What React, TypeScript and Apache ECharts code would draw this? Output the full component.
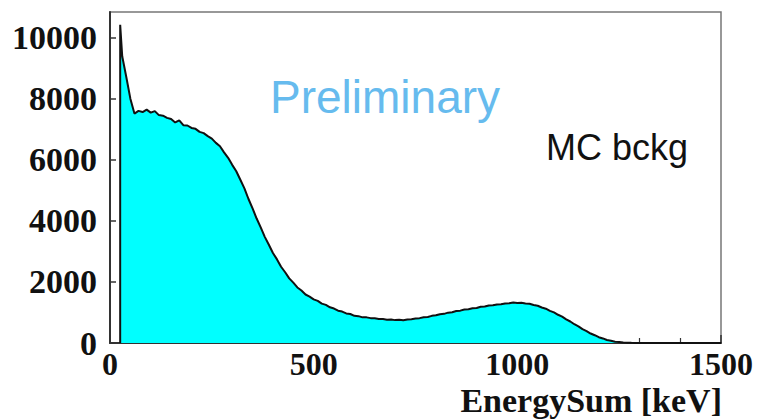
import React, { useEffect, useRef } from "react";
import * as echarts from "echarts";

// Energy-sum spectrum of the MC background, 10 keV bins starting at 30 keV
const BIN_START = 30;
const BIN_WIDTH = 10;
const edgeEnergy = 25;
const edgePeak = 10430;
const counts = [
  9400, 8720, 8010, 7520, 7610, 7570, 7650, 7550, 7600, 7470,
  7450, 7380, 7340, 7230, 7300, 7140, 7130, 7050, 7020, 6920,
  6880, 6780, 6700, 6560, 6450, 6250, 6070, 5840, 5630, 5350,
  5070, 4720, 4410, 4080, 3790, 3480, 3220, 2950, 2740, 2500,
  2320, 2120, 1980, 1820, 1720, 1590, 1520, 1430, 1380, 1290,
  1250, 1170, 1130, 1060, 1030, 970, 950, 890, 880, 840,
  840, 815, 810, 790, 785, 765, 770, 750, 760, 745,
  770, 780, 800, 815, 845, 855, 890, 910, 945, 955,
  995, 1010, 1050, 1060, 1100, 1105, 1140, 1150, 1190, 1195,
  1230, 1235, 1265, 1270, 1295, 1300, 1325, 1310, 1320, 1295,
  1285, 1245, 1220, 1165, 1125, 1055, 1005, 925, 865, 775,
  705, 615, 545, 455, 390, 310, 255, 190, 150, 100,
  72, 44, 30, 15, 10, 5, 2, 1, 0,
];
const axisEnd = 1500;

const xTicks = { min: 0, max: 1500, interval: 500 };
const yTicks = { min: 0, max: 10850, interval: 2000 };

const labelFont = "'Liberation Serif', 'Times New Roman', serif";
const sansFont = "'Liberation Sans', Arial, sans-serif";

export default function App() {
  const ref = useRef<HTMLDivElement>(null);

  useEffect(() => {
    document.body.style.margin = "0";
    if (!ref.current) return;
    const chart = echarts.init(ref.current, undefined, { renderer: "svg" });

    const spectrum: [number, number][] = [[edgeEnergy, 0], [edgeEnergy, edgePeak]];
    counts.forEach((c, i) => spectrum.push([BIN_START + i * BIN_WIDTH, c]));
    spectrum.push([axisEnd, 0]);

    const plain = (v: number) => String(v);

    chart.setOption({
      animation: false,
      backgroundColor: "#ffffff",
      grid: {
        left: 110,
        right: 38,
        top: 12,
        bottom: 77,
        show: true,
        borderColor: "#777",
        borderWidth: 1.5,
      },
      xAxis: {
        type: "value",
        min: xTicks.min,
        max: xTicks.max,
        interval: xTicks.interval,
        axisLine: { show: true, lineStyle: { color: "#333", width: 2 } },
        axisTick: { show: true, inside: true, length: 8, lineStyle: { color: "#333", width: 1.5 } },
        minorTick: { show: true, splitNumber: 5, length: 5, lineStyle: { color: "#333", width: 1.2 } },
        splitLine: { show: false },
        axisLabel: {
          margin: 5,
          formatter: plain,
          fontFamily: labelFont,
          fontWeight: "bold",
          fontSize: 32,
          color: "#111",
        },
      },
      yAxis: {
        type: "value",
        min: yTicks.min,
        max: yTicks.max,
        interval: yTicks.interval,
        axisLine: { show: true, lineStyle: { color: "#333", width: 2 } },
        axisTick: { show: true, inside: true, length: 6, lineStyle: { color: "#333", width: 1.5 } },
        splitLine: { show: false },
        axisLabel: {
          margin: 13,
          showMaxLabel: false,
          formatter: plain,
          fontFamily: labelFont,
          fontWeight: "bold",
          fontSize: 34,
          color: "#111",
        },
      },
      series: [
        {
          type: "line",
          data: spectrum,
          showSymbol: false,
          symbol: "none",
          lineStyle: { color: "#111", width: 2 },
          areaStyle: { color: "#00ffff", opacity: 1 },
          z: 2,
        },
      ],
      graphic: [
        {
          type: "text",
          right: 759 - 722,
          top: 383,
          style: {
            text: "EnergySum [keV]",
            font: `bold 34px ${labelFont}`,
            fill: "#111",
          },
        },
        {
          type: "text",
          left: 270,
          top: 74,
          style: {
            text: "Preliminary",
            font: `46px ${sansFont}`,
            fill: "#66bbee",
          },
        },
        {
          type: "text",
          left: 546,
          top: 129,
          style: {
            text: "MC bckg",
            font: `36px ${sansFont}`,
            fill: "#111",
          },
        },
      ],
    });

    return () => chart.dispose();
  }, []);

  return <div ref={ref} style={{ width: 759, height: 420 }} />;
}
